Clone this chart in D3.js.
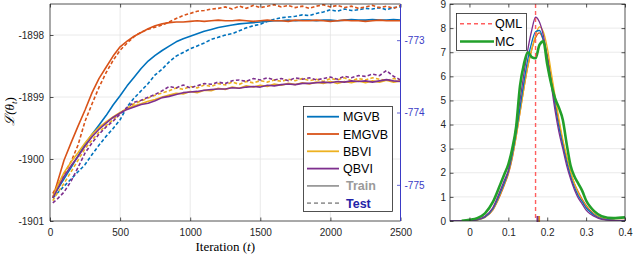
<!DOCTYPE html>
<html>
<head>
<meta charset="utf-8">
<script src="https://cdn.jsdelivr.net/npm/d3@7"></script>
<style>
    body { margin: 0; background: #fff; }
    svg { display: block; font-family: 'Liberation Sans', Arial, sans-serif; }
</style>
</head>
<body>
<script>
// ---- left panel: ELBO traces, train on left axis, test on right axis ----
var iterations = [20, 50, 100, 150, 200, 250, 300, 350, 400, 450,
    500, 550, 600, 650, 700, 750, 800, 850, 900, 950,
    1000, 1050, 1100, 1150, 1200, 1250, 1300, 1350, 1400, 1450,
    1500, 1550, 1600, 1650, 1700, 1750, 1800, 1850, 1900, 1950,
    2000, 2050, 2100, 2150, 2200, 2250, 2300, 2350, 2400, 2450,
    2500];

var mgvbTrain = [-1900.62, -1900.50, -1900.32, -1900.14, -1899.95, -1899.76, -1899.60, -1899.45, -1899.30, -1899.13,
    -1898.98, -1898.82, -1898.68, -1898.54, -1898.42, -1898.33, -1898.25, -1898.18, -1898.11, -1898.06,
    -1898.02, -1897.98, -1897.94, -1897.91, -1897.88, -1897.86, -1897.84, -1897.82, -1897.81, -1897.80,
    -1897.79, -1897.78, -1897.77, -1897.77, -1897.76, -1897.77, -1897.76, -1897.76, -1897.77, -1897.76,
    -1897.76, -1897.77, -1897.76, -1897.75, -1897.76, -1897.76, -1897.75, -1897.76, -1897.76, -1897.75,
    -1897.76];
var emgvbTrain = [-1900.62, -1900.40, -1900.02, -1899.74, -1899.47, -1899.21, -1898.93, -1898.70, -1898.52, -1898.34,
    -1898.19, -1898.10, -1898.02, -1897.96, -1897.90, -1897.85, -1897.82, -1897.80, -1897.79, -1897.79,
    -1897.78, -1897.77, -1897.78, -1897.77, -1897.76, -1897.77, -1897.77, -1897.76, -1897.77, -1897.78,
    -1897.77, -1897.76, -1897.77, -1897.77, -1897.78, -1897.76, -1897.77, -1897.77, -1897.76, -1897.77,
    -1897.78, -1897.77, -1897.76, -1897.77, -1897.77, -1897.78, -1897.77, -1897.76, -1897.77, -1897.77,
    -1897.77];
var bbviTrain = [-1900.62, -1900.45, -1900.22, -1900.05, -1899.90, -1899.74, -1899.60, -1899.49, -1899.40, -1899.32,
    -1899.25, -1899.19, -1899.14, -1899.11, -1899.07, -1899.04, -1899.00, -1898.97, -1898.94, -1898.95,
    -1898.91, -1898.93, -1898.89, -1898.90, -1898.86, -1898.88, -1898.84, -1898.86, -1898.82, -1898.84,
    -1898.81, -1898.83, -1898.79, -1898.81, -1898.78, -1898.80, -1898.77, -1898.79, -1898.76, -1898.78,
    -1898.75, -1898.78, -1898.75, -1898.77, -1898.74, -1898.77, -1898.74, -1898.76, -1898.73, -1898.76,
    -1898.74];
var qbviTrain = [-1900.63, -1900.50, -1900.28, -1900.11, -1899.96, -1899.79, -1899.64, -1899.52, -1899.42, -1899.33,
    -1899.26, -1899.20, -1899.16, -1899.12, -1899.10, -1899.06, -1899.01, -1898.99, -1898.96, -1898.93,
    -1898.92, -1898.91, -1898.89, -1898.88, -1898.87, -1898.87, -1898.85, -1898.86, -1898.84, -1898.83,
    -1898.84, -1898.81, -1898.82, -1898.80, -1898.79, -1898.80, -1898.78, -1898.78, -1898.77, -1898.76,
    -1898.77, -1898.75, -1898.76, -1898.74, -1898.75, -1898.74, -1898.76, -1898.74, -1898.72, -1898.74,
    -1898.75];

var mgvbTest = [-775.18, -775.12, -775.02, -774.92, -774.82, -774.72, -774.58, -774.45, -774.33, -774.22,
    -774.10, -773.92, -773.80, -773.70, -773.60, -773.48, -773.40, -773.30, -773.22, -773.17,
    -773.12, -773.08, -773.04, -772.99, -772.96, -772.93, -772.91, -772.87, -772.83, -772.80,
    -772.78, -772.74, -772.71, -772.69, -772.68, -772.67, -772.65, -772.66, -772.63, -772.61,
    -772.58, -772.60, -772.57, -772.59, -772.58, -772.56, -772.57, -772.55, -772.58, -772.55,
    -772.54];
var emgvbTest = [-775.12, -775.02, -774.85, -774.68, -774.45, -774.12, -773.88, -773.65, -773.45, -773.28,
    -773.14, -773.04, -772.95, -772.89, -772.85, -772.82, -772.79, -772.75, -772.70, -772.66,
    -772.63, -772.60, -772.59, -772.57, -772.56, -772.54, -772.57, -772.53, -772.56, -772.52,
    -772.55, -772.53, -772.51, -772.54, -772.52, -772.55, -772.53, -772.56, -772.53, -772.51,
    -772.54, -772.52, -772.55, -772.53, -772.56, -772.54, -772.52, -772.55, -772.53, -772.56,
    -772.52];
var bbviTest = [-775.22, -775.12, -774.98, -774.82, -774.66, -774.50, -774.38, -774.27, -774.18, -774.10,
    -774.01, -773.94, -773.88, -773.84, -773.80, -773.76, -773.73, -773.70, -773.66, -773.68,
    -773.64, -773.66, -773.62, -773.64, -773.60, -773.62, -773.58, -773.61, -773.57, -773.59,
    -773.56, -773.58, -773.55, -773.57, -773.54, -773.56, -773.53, -773.56, -773.54, -773.57,
    -773.53, -773.55, -773.52, -773.56, -773.53, -773.55, -773.52, -773.54, -773.56, -773.53,
    -773.55];
var qbviTest = [-775.25, -775.20, -775.10, -774.95, -774.76, -774.56, -774.42, -774.30, -774.20, -774.12,
    -774.02, -773.93, -773.86, -773.83, -773.79, -773.75, -773.70, -773.64, -773.66, -773.62,
    -773.66, -773.63, -773.60, -773.61, -773.58, -773.60, -773.56, -773.55, -773.57, -773.53,
    -773.55, -773.52, -773.55, -773.53, -773.56, -773.52, -773.54, -773.52, -773.55, -773.53,
    -773.51, -773.54, -773.50, -773.52, -773.49, -773.50, -773.47, -773.49, -773.42, -773.50,
    -773.55];

var iterTicks = [0, 500, 1000, 1500, 2000, 2500];
var trainTicks = [-1901, -1900, -1899, -1898];
var testTicks = [-775, -774, -773];

// ---- right panel: posterior densities ----
var densX = [-0.05, -0.02, 0, 0.02, 0.04, 0.06, 0.08, 0.09, 0.10, 0.11,
    0.12, 0.13, 0.14, 0.15, 0.16, 0.17, 0.18, 0.19, 0.20, 0.21,
    0.22, 0.23, 0.24, 0.25, 0.26, 0.27, 0.28, 0.29, 0.30, 0.31,
    0.32, 0.34, 0.37, 0.40];
var mgvbDens = [0, 0.005, 0.02, 0.055, 0.17, 0.5, 1.2, 1.6, 2.05, 2.75,
    3.65, 4.7, 5.75, 6.7, 7.4, 7.85, 7.9, 7.5, 6.75, 5.8,
    4.8, 3.9, 3.15, 2.45, 1.85, 1.4, 1.05, 0.8, 0.55, 0.38,
    0.25, 0.09, 0.03, 0.01];
var emgvbDens = [0, 0.005, 0.02, 0.05, 0.15, 0.45, 1.1, 1.5, 1.95, 2.6,
    3.5, 4.5, 5.5, 6.4, 7.1, 7.6, 7.8, 7.5, 6.9, 6.0,
    5.0, 4.1, 3.3, 2.6, 2.0, 1.55, 1.2, 0.9, 0.65, 0.45,
    0.3, 0.12, 0.04, 0.02];
var bbviDens = [0, 0.005, 0.02, 0.05, 0.16, 0.47, 1.15, 1.55, 2.0, 2.65,
    3.5, 4.5, 5.5, 6.4, 7.1, 7.7, 8.05, 7.85, 7.2, 6.2,
    5.2, 4.25, 3.4, 2.7, 2.05, 1.55, 1.15, 0.85, 0.6, 0.4,
    0.27, 0.1, 0.03, 0.01];
var qbviDens = [0, 0.005, 0.02, 0.06, 0.2, 0.55, 1.3, 1.7, 2.1, 2.9,
    3.9, 5.0, 6.1, 7.1, 7.9, 8.45, 8.25, 7.7, 6.8, 5.7,
    4.6, 3.7, 3.0, 2.3, 1.75, 1.3, 0.95, 0.7, 0.45, 0.3,
    0.2, 0.07, 0.02, 0];
var mcDens = [null, 0.01, 0.05, 0.12, 0.32, 0.78, 1.55, 1.95, 2.35, 3.0,
    3.9, 5.6, 6.5, 7.0, 6.8, 6.75, 7.3, 7.45, 6.5, 5.7,
    5.1, 4.7, 4.2, 3.2, 2.3, 1.85, 1.55, 1.25, 0.85, 0.6,
    0.42, 0.2, 0.12, 0.15];
var qmlValue = 0.17;
var estMarks = [0.177, 0.179, 0.178, 0.175];   // MGVB, EMGVB, BBVI, QBVI

var densXTicks = [0, 0.1, 0.2, 0.3, 0.4];
var densYTicks = [0, 1, 2, 3, 4, 5, 6, 7, 8, 9];

var methods = ['MGVB', 'EMGVB', 'BBVI', 'QBVI'];
var methodColors = ['#0072BD', '#D95319', '#EDB120', '#7E2F8E'];

(function(d3) {
    'use strict';

    var settings = {
        width: 634,
        height: 256,
        left: { x0: 50, x1: 400.5, y0: 4, y1: 221 },
        right: { x0: 450, x1: 625, y0: 4, y1: 221 },
        tick: 3.5,
        axisColor: '#262626',
        gridColor: '#e4e4e4',
        testColor: '#3b3bc6',
        mcColor: '#22a02a',
        qmlColor: '#ff5e5e'
    };

    // plain hyphen for negatives, like the original figure
    var plain = function(d) { return String(d); };

    var svg = d3.select('body')
        .append('svg')
        .attr('width', settings.width)
        .attr('height', settings.height);

    function styleAxis(g, color) {
        g.select('.domain').remove();
        g.selectAll('line').attr('stroke', color || settings.axisColor).attr('stroke-width', 0.8);
        g.selectAll('text')
            .attr('fill', color || settings.axisColor)
            .style('font-family', "'Liberation Sans', Arial, sans-serif")
            .style('font-size', '10px');
    }

    // ================= left panel =================
    var L = settings.left;
    var xIter = d3.scaleLinear().domain([0, 2500]).range([L.x0, L.x1]);
    var yTrain = d3.scaleLinear().domain([-1901, -1897.5]).range([L.y1, L.y0]);
    var yTest = d3.scaleLinear().domain([-775.5, -772.5]).range([L.y1, L.y0]);

    var left = svg.append('g');

    // grid
    left.append('g').selectAll('line')
        .data(iterTicks.slice(1, -1))
        .enter().append('line')
        .attr('x1', function(d) { return xIter(d); })
        .attr('x2', function(d) { return xIter(d); })
        .attr('y1', L.y0).attr('y2', L.y1)
        .attr('stroke', settings.gridColor).attr('stroke-width', 0.8);
    left.append('g').selectAll('line')
        .data(trainTicks.slice(1))
        .enter().append('line')
        .attr('x1', L.x0).attr('x2', L.x1)
        .attr('y1', function(d) { return yTrain(d); })
        .attr('y2', function(d) { return yTrain(d); })
        .attr('stroke', settings.gridColor).attr('stroke-width', 0.8);

    left.append('clipPath').attr('id', 'clipL')
        .append('rect')
        .attr('x', L.x0).attr('y', L.y0)
        .attr('width', L.x1 - L.x0).attr('height', L.y1 - L.y0);

    var trainSeries = [mgvbTrain, emgvbTrain, bbviTrain, qbviTrain];
    var testSeries = [mgvbTest, emgvbTest, bbviTest, qbviTest];

    var trainLine = d3.line()
        .x(function(d, i) { return xIter(iterations[i]); })
        .y(function(d) { return yTrain(d); });
    var testLine = d3.line()
        .x(function(d, i) { return xIter(iterations[i]); })
        .y(function(d) { return yTest(d); });

    var curves = left.append('g').attr('clip-path', 'url(#clipL)');
    methods.forEach(function(m, k) {
        curves.append('path')
            .attr('d', trainLine(trainSeries[k]))
            .attr('fill', 'none')
            .attr('stroke', methodColors[k])
            .attr('stroke-width', 1.6)
            .attr('stroke-linejoin', 'round');
        curves.append('path')
            .attr('d', testLine(testSeries[k]))
            .attr('fill', 'none')
            .attr('stroke', methodColors[k])
            .attr('stroke-width', 1.6)
            .attr('stroke-dasharray', '3.5,2.2');
    });

    // axes
    left.append('g')
        .attr('transform', 'translate(0,' + L.y1 + ')')
        .call(d3.axisBottom(xIter).tickValues(iterTicks).tickSize(-settings.tick).tickPadding(8).tickFormat(plain))
        .call(styleAxis);
    left.append('g')
        .attr('transform', 'translate(0,' + L.y0 + ')')
        .call(d3.axisTop(xIter).tickValues(iterTicks).tickSize(-settings.tick).tickFormat(''))
        .call(styleAxis);
    left.append('g')
        .attr('transform', 'translate(' + L.x0 + ',0)')
        .call(d3.axisLeft(yTrain).tickValues(trainTicks).tickSize(-settings.tick).tickPadding(6).tickFormat(plain))
        .call(styleAxis);
    left.append('g')
        .attr('transform', 'translate(' + L.x1 + ',0)')
        .call(d3.axisRight(yTest).tickValues(testTicks).tickSize(-settings.tick).tickPadding(4).tickFormat(plain))
        .call(function(g) { styleAxis(g, settings.testColor); });

    // frame
    left.append('path')
        .attr('d', 'M' + L.x1 + ',' + L.y0 + 'H' + L.x0 + 'V' + L.y1 + 'H' + L.x1)
        .attr('fill', 'none').attr('stroke', settings.axisColor).attr('stroke-width', 0.8);
    left.append('line')
        .attr('x1', L.x1).attr('x2', L.x1).attr('y1', L.y0).attr('y2', L.y1)
        .attr('stroke', settings.testColor).attr('stroke-width', 1);

    // axis titles
    var yTitle = left.append('text')
        .attr('transform', 'translate(14,' + ((L.y0 + L.y1) / 2 - 1) + ') rotate(-90)')
        .attr('text-anchor', 'middle')
        .attr('fill', '#000')
        .style('font-family', "'Liberation Serif', 'DejaVu Serif', serif")
        .style('font-size', '13px')
        .style('font-style', 'italic');
    yTitle.append('tspan').text('ℒ(θ');
    yTitle.append('tspan').attr('dy', 3).style('font-size', '9px').text('t');
    yTitle.append('tspan').attr('dy', -3).style('font-style', 'normal').text(')');

    var xTitle = left.append('text')
        .attr('x', (L.x0 + L.x1) / 2)
        .attr('y', 251)
        .attr('text-anchor', 'middle')
        .attr('fill', '#000')
        .style('font-family', "'Liberation Serif', 'DejaVu Serif', serif")
        .style('font-size', '13px');
    xTitle.append('tspan').text('Iteration (');
    xTitle.append('tspan').style('font-style', 'italic').text('t');
    xTitle.append('tspan').text(')');

    // legend
    var lg = left.append('g');
    lg.append('rect')
        .attr('x', 303.5).attr('y', 106.5).attr('width', 89).attr('height', 105)
        .attr('fill', '#fff').attr('stroke', settings.axisColor).attr('stroke-width', 0.8);
    var legendItems = methods.map(function(m, k) {
        return { label: m, color: methodColors[k], dash: null, text: '#000', weight: 'normal', tx: 343 };
    });
    legendItems.push({ label: 'Train', color: '#9a9a9a', dash: null, text: '#9a9a9a', weight: 'bold', tx: 346 });
    legendItems.push({ label: 'Test', color: '#9a9a9a', dash: '4,3', text: '#2323a8', weight: 'bold', tx: 346 });
    legendItems.forEach(function(it, i) {
        var yy = 116.7 + i * 17.3;
        lg.append('line')
            .attr('x1', 307).attr('x2', 339).attr('y1', yy).attr('y2', yy)
            .attr('stroke', it.color).attr('stroke-width', 1.8)
            .attr('stroke-dasharray', it.dash);
        lg.append('text')
            .attr('x', it.tx).attr('y', yy).attr('dy', '0.36em')
            .attr('fill', it.text)
            .style('font-size', '12.5px')
            .style('font-weight', it.weight)
            .text(it.label);
    });

    // ================= right panel =================
    var R = settings.right;
    var xDens = d3.scaleLinear().domain([-0.05, 0.4]).range([R.x0, R.x1]);
    var yDens = d3.scaleLinear().domain([0, 9]).range([R.y1, R.y0]);

    var right = svg.append('g');

    right.append('g').selectAll('line')
        .data(densYTicks.slice(1, -1))
        .enter().append('line')
        .attr('x1', R.x0).attr('x2', R.x1)
        .attr('y1', function(d) { return yDens(d); })
        .attr('y2', function(d) { return yDens(d); })
        .attr('stroke', settings.gridColor).attr('stroke-width', 0.8);

    right.append('clipPath').attr('id', 'clipR')
        .append('rect')
        .attr('x', R.x0).attr('y', R.y0)
        .attr('width', R.x1 - R.x0).attr('height', R.y1 - R.y0);

    var densLine = d3.line()
        .defined(function(d) { return d != null; })
        .x(function(d, i) { return xDens(densX[i]); })
        .y(function(d) { return yDens(d); })
        .curve(d3.curveMonotoneX);

    var dens = right.append('g').attr('clip-path', 'url(#clipR)');
    var densSeries = [mgvbDens, emgvbDens, bbviDens, qbviDens];
    [1, 2, 0, 3].forEach(function(k) {
        dens.append('path')
            .attr('d', densLine(densSeries[k]))
            .attr('fill', 'none')
            .attr('stroke', methodColors[k])
            .attr('stroke-width', 1.3);
    });
    dens.append('path')
        .attr('d', densLine(mcDens))
        .attr('fill', 'none')
        .attr('stroke', settings.mcColor)
        .attr('stroke-width', 2.6)
        .attr('stroke-linejoin', 'round');

    dens.append('line')
        .attr('x1', xDens(qmlValue)).attr('x2', xDens(qmlValue))
        .attr('y1', R.y0).attr('y2', R.y1)
        .attr('stroke', settings.qmlColor).attr('stroke-width', 1.4)
        .attr('stroke-dasharray', '4,3');

    right.append('g').selectAll('rect')
        .data(estMarks)
        .enter().append('rect')
        .attr('x', function(d) { return xDens(d) - 1; })
        .attr('y', R.y1 - 5)
        .attr('width', 2).attr('height', 6)
        .attr('fill', function(d, i) { return methodColors[i]; });

    right.append('g')
        .attr('transform', 'translate(0,' + R.y1 + ')')
        .call(d3.axisBottom(xDens).tickValues(densXTicks).tickSize(-settings.tick).tickPadding(8).tickFormat(plain))
        .call(styleAxis);
    right.append('g')
        .attr('transform', 'translate(0,' + R.y0 + ')')
        .call(d3.axisTop(xDens).tickValues(densXTicks).tickSize(-settings.tick).tickFormat(''))
        .call(styleAxis);
    right.append('g')
        .attr('transform', 'translate(' + R.x0 + ',0)')
        .call(d3.axisLeft(yDens).tickValues(densYTicks).tickSize(-settings.tick).tickPadding(4).tickFormat(plain))
        .call(styleAxis);
    right.append('g')
        .attr('transform', 'translate(' + R.x1 + ',0)')
        .call(d3.axisRight(yDens).tickValues(densYTicks).tickSize(-settings.tick).tickFormat(''))
        .call(styleAxis);
    right.append('rect')
        .attr('x', R.x0).attr('y', R.y0)
        .attr('width', R.x1 - R.x0).attr('height', R.y1 - R.y0)
        .attr('fill', 'none').attr('stroke', settings.axisColor).attr('stroke-width', 0.8);

    // legend
    var rg = right.append('g');
    rg.append('rect')
        .attr('x', 456.5).attr('y', 13.5).attr('width', 70).attr('height', 37)
        .attr('fill', '#fff').attr('stroke', settings.axisColor).attr('stroke-width', 0.8);
    [{ label: 'QML', color: settings.qmlColor, w: 1.5, dash: '4,3', y: 23.8 },
     { label: 'MC', color: settings.mcColor, w: 2.6, dash: null, y: 41.5 }].forEach(function(it) {
        rg.append('line')
            .attr('x1', 460).attr('x2', 494).attr('y1', it.y).attr('y2', it.y)
            .attr('stroke', it.color).attr('stroke-width', it.w)
            .attr('stroke-dasharray', it.dash);
        rg.append('text')
            .attr('x', 495).attr('y', it.y).attr('dy', '0.36em')
            .attr('fill', '#000')
            .style('font-size', '12.5px')
            .text(it.label);
    });

})(window.d3);
</script>
</body>
</html>
